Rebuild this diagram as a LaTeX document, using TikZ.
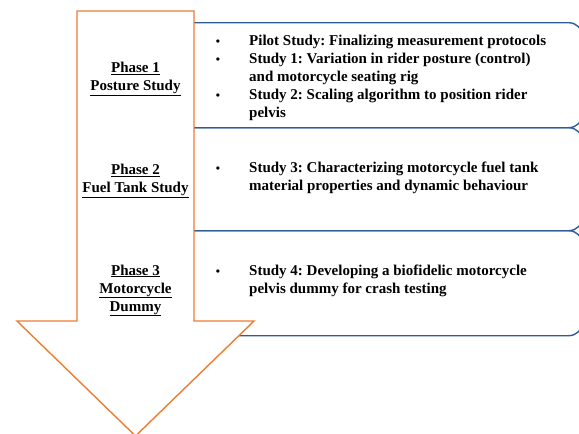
\documentclass[tikz,border=0pt]{standalone}
\usepackage{fontspec}
\setmainfont{Liberation Serif}
\usetikzlibrary{positioning}
\definecolor{arroworange}{HTML}{ED7D31}
\definecolor{boxblue}{HTML}{2F5C98}
\frenchspacing
\tikzset{
  studybox/.style={draw=boxblue, line width=1.4pt, rounded corners=14pt, minimum width=412pt, anchor=north west, inner sep=0pt},
  phasearrow/.style={draw=arroworange, fill=white, line width=1.4pt, line join=miter},
  phaselabel/.style={align=center, anchor=base, inner sep=0pt, font=\fontsize{15}{18}\selectfont\bfseries},
  studytext/.style={align=left, anchor=base west, inner sep=0pt, font=\fontsize{15}{18}\selectfont\bfseries},
  bulletmark/.style={anchor=base, inner sep=0pt, font=\fontsize{12}{18}\selectfont\bfseries}
}
\begin{document}
\begin{tikzpicture}[x=1pt,y=-1pt]
  \useasboundingbox (0,0) rectangle (579,434);
  \clip (0,0) rectangle (579,434);

  % study boxes behind the arrow
  \node[studybox, minimum height=105pt] (box1) at (170,22) {};
  \node[studybox, minimum height=103pt] (box2) at (170,127) {};
  \node[studybox, minimum height=105pt] (box3) at (170,230) {};

  % big arrow
  \draw[phasearrow] (77,11) -- (194,11) -- (194,321) -- (254,321)
    -- (135.5,436) -- (17,321) -- (77,321) -- cycle;

  % phase labels (base = last line)
  \node[phaselabel] (ph1) at (135.5,90.5) {\underline{Phase 1}\\\underline{Posture Study}};
  \node[phaselabel] (ph2) at (135.5,192.5) {\underline{Phase 2}\\\underline{Fuel Tank Study}};
  \node[phaselabel] (ph3) at (135.5,311) {\underline{Phase 3}\\\underline{Motorcycle}\\\underline{Dummy}};

  % studies
  \node[bulletmark] (b0) at (218,45) {\textbullet};
  \node[studytext] (s0) at (249,45) {Pilot Study: Finalizing measurement protocols};
  \node[bulletmark] (b1) at (218,63) {\textbullet};
  \node[studytext] (s1) at (249,81) {Study 1: Variation in rider posture (control)\\and motorcycle seating rig};
  \node[bulletmark] (b2) at (218,99) {\textbullet};
  \node[studytext] (s2) at (249,117) {Study 2: Scaling algorithm to position rider\\pelvis};
  \node[bulletmark] (b3) at (218,172) {\textbullet};
  \node[studytext] (s3) at (249,190) {Study 3: Characterizing motorcycle fuel tank\\material properties and dynamic behaviour};
  \node[bulletmark] (b4) at (218,275) {\textbullet};
  \node[studytext] (s4) at (249,293) {Study 4: Developing a biofidelic motorcycle\\pelvis dummy for crash testing};
\end{tikzpicture}
\end{document}
